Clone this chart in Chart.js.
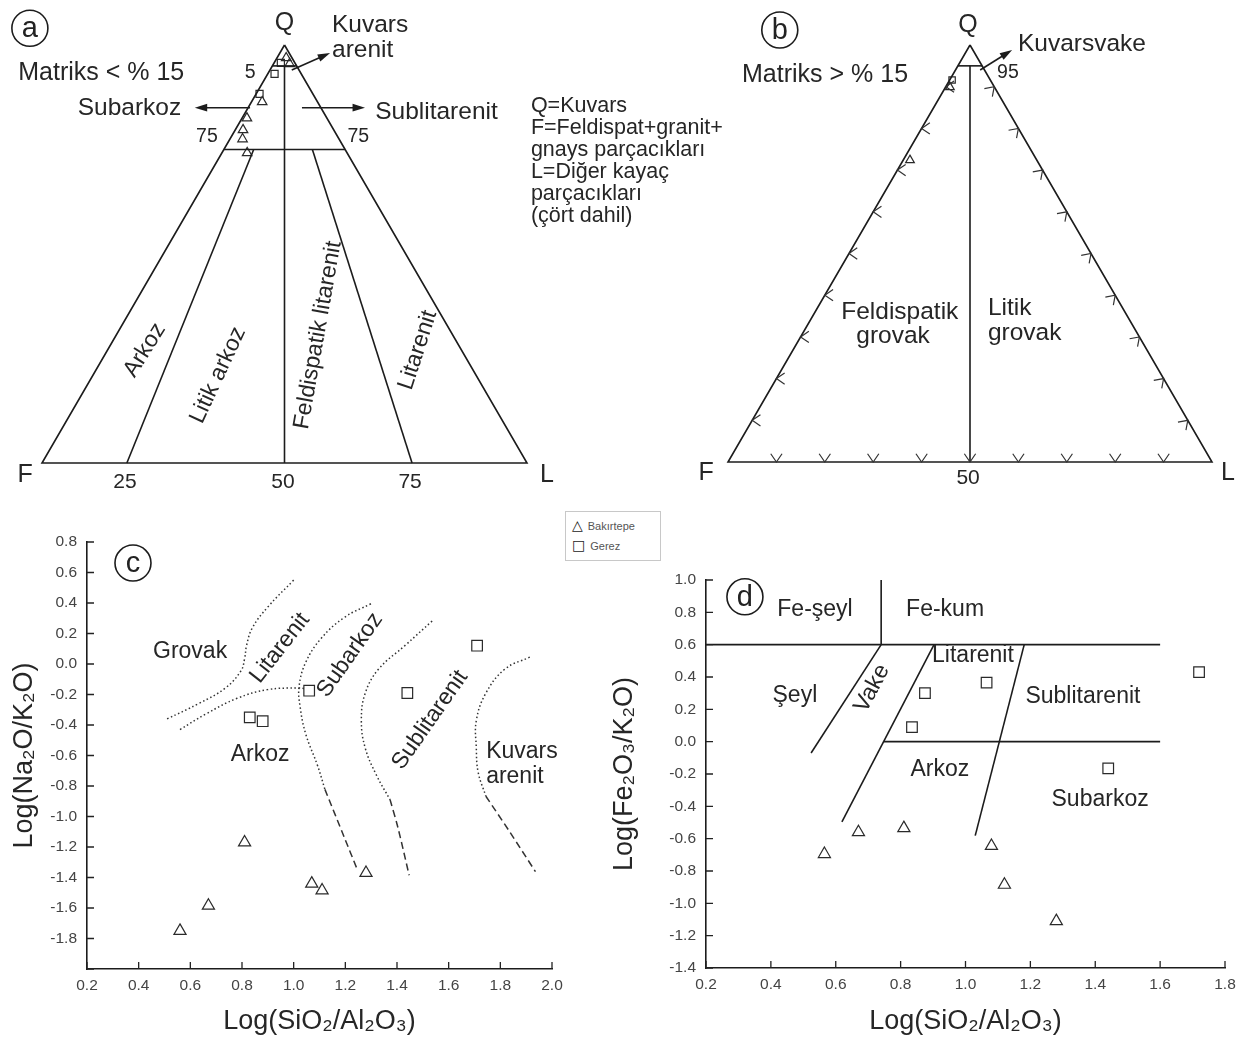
<!DOCTYPE html>
<html lang="tr">
<head>
<meta charset="utf-8">
<title>Kumtaşı sınıflama diyagramları</title>
<script src="https://cdn.jsdelivr.net/npm/chart.js@4.4.1/dist/chart.umd.min.js"></script>
<style>
    body { margin: 0; background: #fff; }
    #page { position: relative; width: 1252px; height: 1039px; overflow: hidden; background: #fff; }
    .panel { position: absolute; }
    #legendBox {
        position: absolute; left: 565px; top: 511px; width: 94px; height: 48px;
        border: 1px solid #c8c8c8; background: #fff;
        font: 11px "Liberation Sans", Arial, sans-serif; color: #555; z-index: 5;
    }
    #legendBox div { position: absolute; left: 6px; }
    #legendBox span { font: 14px "DejaVu Sans", sans-serif; color: #222; margin-right: 5px; }
</style>
</head>
<body>
<div id="page">
    <div class="panel" style="left:0;top:0"><canvas id="chartA" width="770" height="500"></canvas></div>
    <div class="panel" style="left:690px;top:0"><canvas id="chartB" width="562" height="500"></canvas></div>
    <div class="panel" style="left:0;top:500px"><canvas id="chartC" width="600" height="539"></canvas></div>
    <div class="panel" style="left:600px;top:500px"><canvas id="chartD" width="652" height="539"></canvas></div>
    <div id="legendBox">
        <div style="top:5px"><span>△</span>Bakırtepe</div>
        <div style="top:25px"><span>□</span>Gerez</div>
    </div>
</div>
<script>
    // ---------- data ----------
    // (a) matriks < %15, Q-F-L yüzdeleri
    const aBakirtepeQFL = [[96.9, 1.2, 1.9], [95.5, 1.2, 3.3], [86.4, 11.4, 2.2], [82.5, 16.5, 1.0],
                           [79.7, 18.7, 1.6], [77.5, 19.9, 2.6], [74.2, 20.6, 5.2]];
    const aGerezQFL = [[95.7, 2.9, 1.4], [93.1, 5.5, 1.4], [88.3, 11.0, 0.7]];
    // (b) matriks > %15
    const bBakirtepeQFL = [[89.9, 9.2, 0.9], [72.4, 26.2, 1.4]];
    const bGerezQFL = [[91.6, 7.9, 0.5]];
    const tickPercents = [10, 20, 30, 40, 50, 60, 70, 80, 90];

    // (c) Log(SiO2/Al2O3) vs Log(Na2O/K2O)
    const cBakirtepeX = [0.56, 0.67, 0.81, 1.07, 1.11, 1.28];
    const cBakirtepeY = [-1.75, -1.585, -1.17, -1.44, -1.485, -1.37];
    const cGerezX = [0.83, 0.88, 1.06, 1.44, 1.71];
    const cGerezY = [-0.35, -0.375, -0.175, -0.19, 0.12];

    // (d) Log(SiO2/Al2O3) vs Log(Fe2O3/K2O)
    const dBakirtepeX = [0.565, 0.67, 0.81, 1.08, 1.12, 1.28];
    const dBakirtepeY = [-0.695, -0.56, -0.535, -0.645, -0.885, -1.11];
    const dGerezX = [0.875, 0.835, 1.065, 1.44, 1.72];
    const dGerezY = [0.30, 0.09, 0.365, -0.165, 0.43];

    // class boundaries, (a) in Q-F-L
    const aEdges = [[100, 0, 0], [0, 100, 0], [0, 0, 100], [100, 0, 0]];
    const aQ75 = [[75, 25, 0], [75, 0, 25]];
    const aQ95 = [[95, 5, 0], [95, 0, 5]];
    const aMid = [[95, 2.5, 2.5], [0, 50, 50]];
    const aLeft = [[75, 18.85, 6.15], [0, 82.5, 17.5]];
    const aRight = [[75, 6.75, 18.25], [0, 23.7, 76.3]];
    // (b)
    const bEdges = aEdges;
    const bQ95 = [[95, 5, 0], [95, 0, 5]];
    const bMid = [[95, 2.5, 2.5], [0, 50, 50]];

    // (c) boundary curves [x, y]
    const cCurveGrovakTop = [[0.51, -0.36], [0.633, -0.259], [0.736, -0.157], [0.796, -0.045], [0.81, 0.034],
                             [0.818, 0.124], [0.84, 0.237], [0.899, 0.372], [1.0, 0.55]];
    const cCurveGrovakLow = [[0.56, -0.43], [0.662, -0.326], [0.781, -0.225], [0.899, -0.168], [1.018, -0.157], [1.04, -0.16]];
    const cCurveSubarkoz = [[1.299, 0.395], [1.196, 0.305], [1.107, 0.169], [1.047, 0.012], [1.021, -0.146],
                            [1.025, -0.281], [1.047, -0.461], [1.092, -0.664], [1.121, -0.822]];
    const cCurveSubarkozDash = [[1.121, -0.822], [1.196, -1.137], [1.247, -1.351]];
    const cCurveSublit = [[1.536, 0.282], [1.433, 0.124], [1.329, -0.033], [1.277, -0.191], [1.262, -0.371],
                          [1.277, -0.551], [1.321, -0.731], [1.373, -0.889]];
    const cCurveSublitDash = [[1.373, -0.889], [1.403, -1.069], [1.447, -1.385]];
    const cCurveKuvars = [[1.914, 0.045], [1.818, -0.033], [1.744, -0.191], [1.707, -0.371], [1.707, -0.551],
                          [1.714, -0.709], [1.744, -0.867]];
    const cCurveKuvarsDash = [[1.744, -0.867], [1.833, -1.092], [1.936, -1.362]];

    // (d) boundary lines [x, y]
    const dLine06 = [[0.2, 0.6], [1.6, 0.6]];
    const dLine00 = [[0.748, 0.0], [1.6, 0.0]];
    const dLineFe = [[0.74, 0.6], [0.74, 1.0]];
    const dLineSeyl = [[0.74, 0.6], [0.524, -0.07]];
    const dLineVake = [[0.903, 0.6], [0.619, -0.496]];
    const dLineLit = [[1.181, 0.6], [1.03, -0.581]];

    // ---------- helpers ----------
    const FONT = '"Liberation Sans", Arial, sans-serif';
    Chart.defaults.font.family = FONT;
    Chart.defaults.color = '#333';

    // ternary -> plot units: x along F-L base (0..100), y = Q
    function tern(p) {
        return {x: p[2] + p[0] / 2, y: p[0]};
    }
    function xy(p) {
        return {x: p[0], y: p[1]};
    }
    function zipXY(xs, ys) {
        return xs.map((v, i) => ({x: v, y: ys[i]}));
    }
    function lineSet(points, conv, extra) {
        return Object.assign({
            data: points.map(conv), showLine: true, pointRadius: 0, borderColor: '#1c1c1c',
            borderWidth: 1.6, fill: false, clip: false
        }, extra || {});
    }
    function markerSet(points, style, radius) {
        return {
            data: points, showLine: false, pointStyle: style, pointRadius: radius,
            pointBorderColor: '#2a2a2a', pointBackgroundColor: 'rgba(255,255,255,0)', pointBorderWidth: 1.2, clip: false
        };
    }

    const annotate = {
        id: 'annotate',
        afterDatasetsDraw(chart, args, opts) {
            const ctx = chart.ctx;
            const sx = chart.scales.x, sy = chart.scales.y;
            ctx.save();
            ctx.strokeStyle = '#1c1c1c';
            ctx.fillStyle = '#1c1c1c';
            for (const a of opts.arrows || []) {
                const x1 = sx.getPixelForValue(a[0]), y1 = sy.getPixelForValue(a[1]);
                const x2 = sx.getPixelForValue(a[2]), y2 = sy.getPixelForValue(a[3]);
                const ang = Math.atan2(y2 - y1, x2 - x1);
                ctx.lineWidth = 1.6;
                ctx.beginPath();
                ctx.moveTo(x1, y1);
                ctx.lineTo(x2 - 8 * Math.cos(ang), y2 - 8 * Math.sin(ang));
                ctx.stroke();
                ctx.beginPath();
                ctx.moveTo(x2, y2);
                ctx.lineTo(x2 - 13 * Math.cos(ang - 0.3), y2 - 13 * Math.sin(ang - 0.3));
                ctx.lineTo(x2 - 13 * Math.cos(ang + 0.3), y2 - 13 * Math.sin(ang + 0.3));
                ctx.closePath();
                ctx.fill();
            }
            for (const c of opts.circles || []) {
                const px = sx.getPixelForValue(c.x), py = sy.getPixelForValue(c.y);
                ctx.lineWidth = 1.6;
                ctx.beginPath();
                ctx.arc(px, py, 18, 0, Math.PI * 2);
                ctx.stroke();
                ctx.font = '29px ' + FONT;
                ctx.fillStyle = '#222';
                ctx.textAlign = 'center';
                ctx.textBaseline = 'middle';
                ctx.fillText(c.text, px, py + 1);
            }
            ctx.fillStyle = '#262626';
            for (const t of opts.texts || []) {
                const px = sx.getPixelForValue(t.x), py = sy.getPixelForValue(t.y);
                ctx.save();
                ctx.translate(px, py);
                if (t.rot) ctx.rotate(t.rot * Math.PI / 180);
                ctx.font = (t.size || 23) + 'px ' + FONT;
                ctx.textAlign = t.align || 'center';
                ctx.textBaseline = 'middle';
                ctx.fillText(t.text, 0, 0);
                ctx.restore();
            }
            ctx.restore();
        }
    };

    // small chevrons along triangle edges (panel b)
    const ternTicks = {
        id: 'ternTicks',
        afterDatasetsDraw(chart, args, opts) {
            if (!opts.values) return;
            const ctx = chart.ctx;
            const sx = chart.scales.x, sy = chart.scales.y;
            const edges = [
                {pts: opts.values.map(v => [v, 100 - v, 0]), dir: Math.PI},
                {pts: opts.values.map(v => [0, 100 - v, v]), dir: Math.PI / 2},
                {pts: opts.values.map(v => [v, 0, 100 - v]), dir: -Math.PI / 4}
            ];
            ctx.save();
            ctx.strokeStyle = '#333';
            ctx.lineWidth = 1.2;
            for (const e of edges) {
                for (const p of e.pts) {
                    const t = tern(p);
                    const px = sx.getPixelForValue(t.x), py = sy.getPixelForValue(t.y);
                    const back = e.dir + Math.PI;
                    ctx.beginPath();
                    ctx.moveTo(px + 10 * Math.cos(back - 0.6), py + 10 * Math.sin(back - 0.6));
                    ctx.lineTo(px, py);
                    ctx.lineTo(px + 10 * Math.cos(back + 0.6), py + 10 * Math.sin(back + 0.6));
                    ctx.stroke();
                }
            }
            ctx.restore();
        }
    };

    // tick marks pointing into the plot (panels c, d)
    const innerTicks = {
        id: 'innerTicks',
        afterDraw(chart, args, opts) {
            if (!opts.on) return;
            const {ctx, chartArea: a} = chart;
            const sx = chart.scales.x, sy = chart.scales.y;
            ctx.save();
            ctx.strokeStyle = '#222';
            ctx.lineWidth = 1.3;
            ctx.beginPath();
            sx.ticks.forEach((t, i) => {
                const px = sx.getPixelForTick(i);
                ctx.moveTo(px, a.bottom);
                ctx.lineTo(px, a.bottom - 7);
            });
            sy.ticks.forEach((t, i) => {
                const py = sy.getPixelForTick(i);
                ctx.moveTo(a.left, py);
                ctx.lineTo(a.left + 7, py);
            });
            ctx.stroke();
            ctx.restore();
        }
    };

    function ternaryChart(id, pad, datasets, pluginOpts) {
        return new Chart(document.getElementById(id), {
            type: 'scatter',
            data: {datasets: datasets},
            options: {
                responsive: false, animation: false, events: [],
                layout: {padding: pad},
                scales: {
                    x: {type: 'linear', min: 0, max: 100, display: false},
                    y: {type: 'linear', min: 0, max: 100, display: false}
                },
                plugins: Object.assign({legend: {display: false}, tooltip: {enabled: false}}, pluginOpts)
            },
            plugins: [annotate, ternTicks]
        });
    }

    function tickText(v) {
        const r = Math.round(v * 10) / 10;
        return (r === 0 ? 0 : r).toFixed(1);
    }

    function xyChart(id, cfg) {
        const tickFont = {size: 15.5};
        const fmt = (v) => (cfg.hideY && cfg.hideY.some(h => Math.abs(h - v) < 1e-6)) ? '' : tickText(v);
        return new Chart(document.getElementById(id), {
            type: 'scatter',
            data: {datasets: cfg.datasets},
            options: {
                responsive: false, animation: false, events: [],
                layout: {padding: cfg.pad},
                scales: {
                    x: {
                        type: 'linear', min: cfg.xMin, max: cfg.xMax,
                        afterFit: (s) => { s.height = cfg.xHeight; },
                        ticks: {stepSize: 0.2, font: tickFont, color: '#444', padding: 7,
                                maxRotation: 0, callback: tickText},
                        grid: {drawOnChartArea: false, drawTicks: false},
                        border: {display: true, color: '#1c1c1c', width: 1.6},
                        title: {display: true, text: 'Log(SiO₂/Al₂O₃)', font: {size: 27}, color: '#262626',
                                padding: {top: 0, bottom: 1}}
                    },
                    y: {
                        type: 'linear', min: cfg.yMin, max: cfg.yMax,
                        afterFit: (s) => { s.width = cfg.yWidth; },
                        ticks: {stepSize: 0.2, font: tickFont, color: '#444', padding: 10, callback: fmt},
                        grid: {drawOnChartArea: false, drawTicks: false},
                        border: {display: true, color: '#1c1c1c', width: 1.6},
                        title: {display: true, text: cfg.yTitle, font: {size: 27}, color: '#262626',
                                padding: {top: 8, bottom: 0}}
                    }
                },
                plugins: {
                    legend: {display: false}, tooltip: {enabled: false},
                    annotate: cfg.annotate, innerTicks: {on: true}
                }
            },
            plugins: [annotate, innerTicks]
        });
    }

    // ---------- (a) ----------
    ternaryChart('chartA', {left: 42, right: 243, top: 45, bottom: 37}, [
        lineSet(aEdges, tern),
        lineSet(aQ75, tern),
        lineSet(aQ95, tern),
        lineSet(aMid, tern),
        lineSet(aLeft, tern),
        lineSet(aRight, tern),
        markerSet(aBakirtepeQFL.map(tern), 'triangle', 5.5),
        markerSet(aGerezQFL.map(tern), 'rect', 5)
    ], {
        annotate: {
            circles: [{x: -2.5, y: 104, text: 'a'}],
            arrows: [[42.9, 85, 31.5, 85], [53.6, 85, 66.6, 85], [51.5, 94, 59.4, 98.1]],
            texts: [
                {text: 'Q', x: 50, y: 105.3, size: 25},
                {text: 'Kuvars', x: 59.8, y: 104.8, size: 24.5, align: 'left'},
                {text: 'arenit', x: 59.8, y: 98.8, size: 24.5, align: 'left'},
                {text: 'Matriks < % 15', x: -4.9, y: 93.3, size: 25, align: 'left'},
                {text: '5', x: 42.9, y: 93.5, size: 19.5},
                {text: 'Subarkoz', x: 28.7, y: 84.9, size: 24.5, align: 'right'},
                {text: 'Sublitarenit', x: 68.7, y: 84.0, size: 24.5, align: 'left'},
                {text: '75', x: 34.0, y: 78, size: 19.5},
                {text: '75', x: 65.2, y: 78, size: 19.5},
                {text: 'Arkoz', x: 21.2, y: 27, size: 23, rot: -58},
                {text: 'Litik arkoz', x: 36.3, y: 21, size: 23, rot: -65},
                {text: 'Feldispatik litarenit', x: 56.9, y: 30.6, size: 23, rot: -80},
                {text: 'Litarenit', x: 77.5, y: 27, size: 23, rot: -72},
                {text: 'F', x: -3.5, y: -2.9, size: 25},
                {text: 'L', x: 104.1, y: -2.9, size: 25},
                {text: '25', x: 17.1, y: -4.5, size: 21},
                {text: '50', x: 49.7, y: -4.5, size: 21},
                {text: '75', x: 75.9, y: -4.5, size: 21},
                {text: 'Q=Kuvars', x: 100.8, y: 85.4, size: 21.5, align: 'left'},
                {text: 'F=Feldispat+granit+', x: 100.8, y: 80.1, size: 21.5, align: 'left'},
                {text: 'gnays parçacıkları', x: 100.8, y: 74.9, size: 21.5, align: 'left'},
                {text: 'L=Diğer kayaç', x: 100.8, y: 69.6, size: 21.5, align: 'left'},
                {text: 'parçacıkları', x: 100.8, y: 64.4, size: 21.5, align: 'left'},
                {text: '(çört dahil)', x: 100.8, y: 59.1, size: 21.5, align: 'left'}
            ]
        }
    });

    // ---------- (b) ----------
    ternaryChart('chartB', {left: 38, right: 40, top: 45, bottom: 38}, [
        lineSet(bEdges, tern),
        lineSet(bQ95, tern),
        lineSet(bMid, tern),
        markerSet(bBakirtepeQFL.map(tern), 'triangle', 5),
        markerSet(bGerezQFL.map(tern), 'rect', 4.5)
    ], {
        ternTicks: {values: tickPercents},
        annotate: {
            circles: [{x: 10.7, y: 103.6, text: 'b'}],
            arrows: [[52.1, 94.0, 58.7, 98.8]],
            texts: [
                {text: 'Q', x: 49.6, y: 104.8, size: 25},
                {text: 'Kuvarsvake', x: 59.9, y: 100.2, size: 24.5, align: 'left'},
                {text: '95', x: 55.6, y: 93.3, size: 19.5, align: 'left'},
                {text: 'Matriks > % 15', x: 2.9, y: 92.8, size: 25, align: 'left'},
                {text: 'Feldispatik', x: 35.5, y: 36.0, size: 24.5},
                {text: 'grovak', x: 34.1, y: 30.2, size: 24.5},
                {text: 'Litik', x: 53.7, y: 36.9, size: 24.5, align: 'left'},
                {text: 'grovak', x: 53.7, y: 30.9, size: 24.5, align: 'left'},
                {text: 'F', x: -4.5, y: -2.6, size: 25},
                {text: 'L', x: 103.3, y: -2.6, size: 25},
                {text: '50', x: 49.6, y: -3.8, size: 21}
            ]
        }
    });

    // ---------- (c) ----------
    const dotted = {borderDash: [1.5, 2.5], borderWidth: 1.5, borderColor: '#333', tension: 0.4};
    const dashed = {borderDash: [7, 4], borderWidth: 1.5, borderColor: '#333', tension: 0.3};
    xyChart('chartC', {
        pad: {left: 0, right: 48, top: 42, bottom: 0},
        xMin: 0.2, xMax: 2.0, yMin: -2.0, yMax: 0.8, xHeight: 70, yWidth: 87, hideY: [-2.0],
        yTitle: 'Log(Na₂O/K₂O)',
        datasets: [
            lineSet(cCurveGrovakTop, xy, dotted),
            lineSet(cCurveGrovakLow, xy, dotted),
            lineSet(cCurveSubarkoz, xy, dotted),
            lineSet(cCurveSubarkozDash, xy, dashed),
            lineSet(cCurveSublit, xy, dotted),
            lineSet(cCurveSublitDash, xy, dashed),
            lineSet(cCurveKuvars, xy, dotted),
            lineSet(cCurveKuvarsDash, xy, dashed),
            markerSet(zipXY(cBakirtepeX, cBakirtepeY), 'triangle', 7),
            markerSet(zipXY(cGerezX, cGerezY), 'rect', 7.5)
        ],
        annotate: {
            circles: [{x: 0.378, y: 0.662, text: 'c'}],
            texts: [
                {text: 'Grovak', x: 0.599, y: 0.079},
                {text: 'Litarenit', x: 0.947, y: 0.105, rot: -52},
                {text: 'Subarkoz', x: 1.218, y: 0.059, rot: -55},
                {text: 'Sublitarenit', x: 1.528, y: -0.367, rot: -55},
                {text: 'Arkoz', x: 0.87, y: -0.597},
                {text: 'Kuvars', x: 1.745, y: -0.577, align: 'left'},
                {text: 'arenit', x: 1.745, y: -0.741, align: 'left'}
            ]
        }
    });

    // ---------- (d) ----------
    xyChart('chartD', {
        pad: {left: 0, right: 27, top: 80, bottom: 0},
        xMin: 0.2, xMax: 1.8, yMin: -1.4, yMax: 1.0, xHeight: 71, yWidth: 106,
        yTitle: 'Log(Fe₂O₃/K₂O)',
        datasets: [
            lineSet(dLine06, xy),
            lineSet(dLine00, xy),
            lineSet(dLineFe, xy),
            lineSet(dLineSeyl, xy),
            lineSet(dLineVake, xy),
            lineSet(dLineLit, xy),
            markerSet(zipXY(dBakirtepeX, dBakirtepeY), 'triangle', 7),
            markerSet(zipXY(dGerezX, dGerezY), 'rect', 7.5)
        ],
        annotate: {
            circles: [{x: 0.32, y: 0.896, text: 'd'}],
            texts: [
                {text: 'Fe-şeyl', x: 0.536, y: 0.817},
                {text: 'Fe-kum', x: 0.937, y: 0.817},
                {text: 'Şeyl', x: 0.474, y: 0.287},
                {text: 'Vake', x: 0.712, y: 0.329, rot: -62},
                {text: 'Litarenit', x: 1.023, y: 0.53},
                {text: 'Sublitarenit', x: 1.362, y: 0.28},
                {text: 'Arkoz', x: 0.921, y: -0.171},
                {text: 'Subarkoz', x: 1.415, y: -0.36}
            ]
        }
    });
</script>
</body>
</html>
